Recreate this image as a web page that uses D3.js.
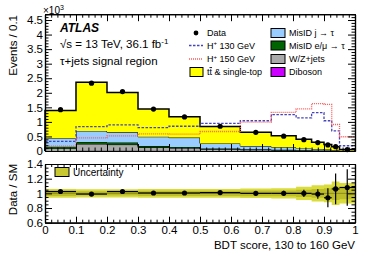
<!DOCTYPE html>
<html><head><meta charset="utf-8">
<script src="https://cdn.jsdelivr.net/npm/d3@7"></script>
<style>
body{margin:0;background:#fff}
text{font-family:"Liberation Sans",Arial,sans-serif}
</style>
</head><body>
<svg width="374" height="268"></svg>
<script>
// bin edges of the BDT score (variable width)
var edges = [0, 0.1, 0.2, 0.3, 0.4, 0.5, 0.63, 0.73, 0.81, 0.86, 0.9, 0.925, 0.95, 1];

// background components, events x10^3 (bottom of the stack first)
var diboson  = [0.004, 0.01, 0.01, 0.006, 0.005, 0.003, 0.002, 0.002, 0.001, 0.001, 0.001, 0.0005, 0.0002];
var wzjets   = [0.086, 0.23, 0.21, 0.114, 0.095, 0.057, 0.038, 0.028, 0.019, 0.014, 0.009, 0.0065, 0.0028];
var misidEmu = [0.06, 0.07, 0.07, 0.05, 0.04, 0.03, 0.02, 0.015, 0.01, 0.005, 0.005, 0.003, 0.001];
var misidJet = [0.29, 0.38, 0.35, 0.32, 0.32, 0.17, 0.11, 0.085, 0.06, 0.05, 0.035, 0.02, 0.008];
var ttbar    = [0.95, 1.67, 1.37, 0.95, 0.72, 0.58, 0.47, 0.39, 0.31, 0.23, 0.17, 0.115, 0.038];

var data     = [1.42, 2.33, 2.04, 1.44, 1.17, 0.85, 0.64, 0.51, 0.39, 0.29, 0.21, 0.15, 0.05];
var hp130    = [0.33, 0.84, 0.9, 0.8, 0.85, 0.95, 1.04, 1.25, 1.14, 1.32, 1.04, 0.69, 0.18];
var hp150    = [0.17, 0.45, 0.52, 0.59, 0.58, 0.67, 0.99, 1.33, 1.45, 1.63, 1.6, 0.91, 0.49];

// ratio panel
var ratio    = [1.025, 0.99, 1.025, 1.005, 1.005, 1.01, 1.0, 1.0, 1.0, 0.99, 0.94, 1.06, 1.08];
var ratioErr = [0.02, 0.015, 0.017, 0.02, 0.022, 0.026, 0.03, 0.035, 0.05, 0.065, 0.13, 0.21, 0.25];
var uncTot   = [0.06, 0.055, 0.055, 0.06, 0.06, 0.06, 0.065, 0.07, 0.09, 0.11, 0.12, 0.16, 0.14];
var uncIn    = [0.035, 0.03, 0.03, 0.035, 0.035, 0.035, 0.04, 0.04, 0.05, 0.06, 0.07, 0.09, 0.08];

var mainTicks  = [0, 0.5, 1, 1.5, 2, 2.5, 3, 3.5, 4, 4.5];
var ratioTicks = [0.6, 0.8, 1, 1.2, 1.4];
var xTicks     = [0, 0.1, 0.2, 0.3, 0.4, 0.5, 0.6, 0.7, 0.8, 0.9, 1];

var svg = d3.select("svg");
var L = 45, R = 355;
var x = d3.scaleLinear().domain([0, 1]).range([L, R]);
var y = d3.scaleLinear().domain([0, 4.7]).range([151, 14.2]);
var yr = d3.scaleLinear().domain([0.6, 1.4]).range([222.7, 164]);
var nb = edges.length - 1;

var keys = ["diboson", "wz", "emu", "jet", "tt"];
var colors = { diboson: "#cc00ff", wz: "#aaaaaa", emu: "#006400", jet: "#99ccff", tt: "#ffff00" };
var rows = d3.range(nb).map(i => ({
    diboson: diboson[i], wz: wzjets[i], emu: misidEmu[i], jet: misidJet[i], tt: ttbar[i]
}));
var stacked = d3.stack().keys(keys)(rows);

// helper: step points from per-bin values
function steps(f) {
    var p = d3.range(nb).map(i => [edges[i], f(i)]);
    p.push([edges[nb], f(nb - 1)]);
    return p;
}

// stacked histograms
stacked.forEach(layer => {
    var pts = d3.range(nb).map(i => ({ x: edges[i], y0: layer[i][0], y1: layer[i][1] }));
    pts.push({ x: 1, y0: layer[nb - 1][0], y1: layer[nb - 1][1] });
    var area = d3.area().curve(d3.curveStepAfter)
        .x(d => x(d.x)).y0(d => y(d.y0)).y1(d => y(d.y1));
    svg.append("path").attr("d", area(pts)).attr("fill", colors[layer.key]);
    var top = steps(i => layer[i][1]);
    top.unshift([0, 0]);
    svg.append("path")
        .attr("d", d3.line().curve(d3.curveStepAfter).x(d => x(d[0])).y(d => y(d[1]))(top) + "L" + x(1) + "," + y(0))
        .attr("fill", "none").attr("stroke", "#000").attr("stroke-width", layer.key == "tt" ? 1.5 : 1);
});

// signal hypotheses
var stepLine = d3.line().curve(d3.curveStepAfter).x(d => x(d[0])).y(d => y(d[1]));
svg.append("path").attr("d", stepLine(steps(i => hp130[i])))
    .attr("fill", "none").attr("stroke", "#4444bb").attr("stroke-width", 1.3).attr("stroke-dasharray", "2.5,1.5");
svg.append("path").attr("d", stepLine(steps(i => hp150[i])))
    .attr("fill", "none").attr("stroke", "#ff5a5a").attr("stroke-width", 1.3).attr("stroke-dasharray", "1,1");

// data points
var centers = d3.range(nb).map(i => (edges[i] + edges[i + 1]) / 2);
svg.append("g").selectAll("circle").data(data).join("circle")
    .attr("cx", (d, i) => x(centers[i])).attr("cy", d => y(d)).attr("r", 2.6).attr("fill", "#000");

// ---- ratio panel ----
function band(half, col) {
    var pts = d3.range(nb).map(i => ({ x: edges[i], h: half[i] }));
    pts.push({ x: 1, h: half[nb - 1] });
    svg.append("path").attr("fill", col)
        .attr("d", d3.area().curve(d3.curveStepAfter).x(d => x(d.x))
            .y0(d => yr(1 - d.h)).y1(d => yr(1 + d.h))(pts));
}
band(uncTot, "#dadc3c");
band(uncIn, "#bdbd2a");
svg.append("line").attr("x1", L).attr("x2", R).attr("y1", yr(1)).attr("y2", yr(1))
    .attr("stroke", "#8c8c20").attr("stroke-width", 1);

var rg = svg.append("g");
d3.range(nb).forEach(i => {
    rg.append("line").attr("x1", x(edges[i])).attr("x2", x(edges[i + 1]))
        .attr("y1", yr(ratio[i])).attr("y2", yr(ratio[i])).attr("stroke", "#000").attr("stroke-width", 1.2);
    rg.append("line").attr("x1", x(centers[i])).attr("x2", x(centers[i]))
        .attr("y1", yr(ratio[i] - ratioErr[i])).attr("y2", yr(ratio[i] + ratioErr[i]))
        .attr("stroke", "#000").attr("stroke-width", 1.2);
    rg.append("circle").attr("cx", x(centers[i])).attr("cy", yr(ratio[i])).attr("r", 2.6).attr("fill", "#000");
});

// ---- frames and ticks ----
function minorOf(major, sub) {
    var out = [];
    for (var i = 0; i < major.length - 1; i++)
        for (var k = 1; k < sub; k++) out.push(major[i] + (major[i + 1] - major[i]) * k / sub);
    return out;
}
function axes(ys, ymajor, ysub, extra, showX, bigX) {
    var top = ys.range()[1], bot = ys.range()[0];
    var yminor = minorOf(ymajor.concat(extra), ysub).filter(v => v >= ys.domain()[0] && v <= ys.domain()[1]);
    var xminor = minorOf(xTicks, 5);
    var g = svg.append("g");
    g.append("g").attr("transform", "translate(" + L + ",0)")
        .call(d3.axisLeft(ys).tickValues(ymajor).tickSize(-7).tickSizeOuter(0).tickPadding(2).tickFormat(d3.format("")));
    g.append("g").attr("transform", "translate(" + L + ",0)")
        .call(d3.axisLeft(ys).tickValues(yminor).tickSize(-3.5).tickSizeOuter(0).tickFormat(""));
    g.append("g").attr("transform", "translate(" + R + ",0)")
        .call(d3.axisRight(ys).tickValues(ymajor).tickSize(-7).tickSizeOuter(0).tickFormat(""));
    g.append("g").attr("transform", "translate(" + R + ",0)")
        .call(d3.axisRight(ys).tickValues(yminor).tickSize(-3.5).tickSizeOuter(0).tickFormat(""));
    g.append("g").attr("transform", "translate(0," + bot + ")")
        .call(d3.axisBottom(x).tickValues(xTicks).tickSize(-bigX).tickSizeOuter(0).tickPadding(3)
            .tickFormat(showX ? d3.format("") : ""));
    g.append("g").attr("transform", "translate(0," + bot + ")")
        .call(d3.axisBottom(x).tickValues(xminor).tickSize(-bigX / 2).tickSizeOuter(0).tickFormat(""));
    g.append("g").attr("transform", "translate(0," + top + ")")
        .call(d3.axisTop(x).tickValues(xTicks).tickSize(-bigX).tickSizeOuter(0).tickFormat(""));
    g.append("g").attr("transform", "translate(0," + top + ")")
        .call(d3.axisTop(x).tickValues(xminor).tickSize(-bigX / 2).tickSizeOuter(0).tickFormat(""));
    g.selectAll("path.domain").attr("stroke", "#000").attr("stroke-width", 1.2);
    g.selectAll(".tick line").attr("stroke", "#000");
    g.selectAll("text").attr("font-size", 11.5).attr("font-family", "Liberation Sans, Arial, sans-serif").attr("fill", "#000");
}
axes(y, mainTicks, 5, [5], false, 7);
axes(yr, ratioTicks, 4, [], true, 6);

// ---- axis titles ----
svg.append("text").attr("transform", "translate(17,15) rotate(-90)").attr("text-anchor", "end")
    .attr("font-size", 11.5).text("Events / 0.1");
svg.append("text").attr("transform", "translate(17,164) rotate(-90)").attr("text-anchor", "end")
    .attr("font-size", 11.5).text("Data / SM");
svg.append("text").attr("x", R).attr("y", 249).attr("text-anchor", "end")
    .attr("font-size", 11.5).text("BDT score, 130 to 160 GeV");
var e3 = svg.append("text").attr("x", 43).attr("y", 14).attr("font-size", 10);
e3.append("tspan").text("\u00d710");
e3.append("tspan").attr("dy", -4).attr("font-size", 7).text("3");

// ---- ATLAS label ----
svg.append("text").attr("x", 60).attr("y", 32).attr("font-size", 12)
    .attr("font-weight", "bold").attr("font-style", "italic").text("ATLAS");
var s1 = svg.append("text").attr("x", 60).attr("y", 48).attr("font-size", 11.5);
s1.append("tspan").text("\u221As = 13 TeV, 36.1 fb");
s1.append("tspan").attr("dy", -4.5).attr("font-size", 8).text("-1");
svg.append("text").attr("x", 60).attr("y", 65).attr("font-size", 11.5).text("\u03c4+jets signal region");

// ---- legend ----
var legY = [33, 45.5, 59, 72];
var lt = 9;
svg.append("circle").attr("cx", 196).attr("cy", legY[0]).attr("r", 2.4).attr("fill", "#000");
svg.append("text").attr("x", 207).attr("y", legY[0] + 3.2).attr("font-size", lt).text("Data");
svg.append("line").attr("x1", 189).attr("x2", 203).attr("y1", legY[1]).attr("y2", legY[1])
    .attr("stroke", "#4444bb").attr("stroke-width", 1.3).attr("stroke-dasharray", "2.5,1.5");
var h1 = svg.append("text").attr("x", 207).attr("y", legY[1] + 3.2).attr("font-size", lt);
h1.append("tspan").text("H");
h1.append("tspan").attr("dy", -3.5).attr("font-size", 6).text("+");
h1.append("tspan").attr("dy", 3.5).text(" 130 GeV");
svg.append("line").attr("x1", 189).attr("x2", 203).attr("y1", legY[2]).attr("y2", legY[2])
    .attr("stroke", "#ff5a5a").attr("stroke-width", 1.3).attr("stroke-dasharray", "1,1");
var h2 = svg.append("text").attr("x", 207).attr("y", legY[2] + 3.2).attr("font-size", lt);
h2.append("tspan").text("H");
h2.append("tspan").attr("dy", -3.5).attr("font-size", 6).text("+");
h2.append("tspan").attr("dy", 3.5).text(" 150 GeV");
svg.append("rect").attr("x", 190).attr("y", legY[3] - 4.5).attr("width", 13).attr("height", 9)
    .attr("fill", colors.tt).attr("stroke", "#000");
var t1 = svg.append("text").attr("x", 207).attr("y", legY[3] + 3.2).attr("font-size", lt);
t1.append("tspan").text("t");
t1.append("tspan").attr("text-decoration", "overline").text("t");
t1.append("tspan").text(" & single-top");

var rightLeg = [["jet", "MisID j \u2192 \u03c4"], ["emu", "MisID e/\u03bc \u2192 \u03c4"], ["wz", "W/Z+jets"], ["diboson", "Diboson"]];
rightLeg.forEach((d, i) => {
    svg.append("rect").attr("x", 271).attr("y", legY[i] - 4.5).attr("width", 14).attr("height", 9)
        .attr("fill", colors[d[0]]).attr("stroke", "#000");
    svg.append("text").attr("x", 289).attr("y", legY[i] + 3.2).attr("font-size", lt).text(d[1]);
});

// ratio legend
svg.append("rect").attr("x", 55).attr("y", 167.5).attr("width", 14).attr("height", 9)
    .attr("fill", "#c8c832").attr("stroke", "#000");
svg.append("text").attr("x", 73).attr("y", 175.5).attr("font-size", lt + 1).text("Uncertainty");
</script>
</body></html>
